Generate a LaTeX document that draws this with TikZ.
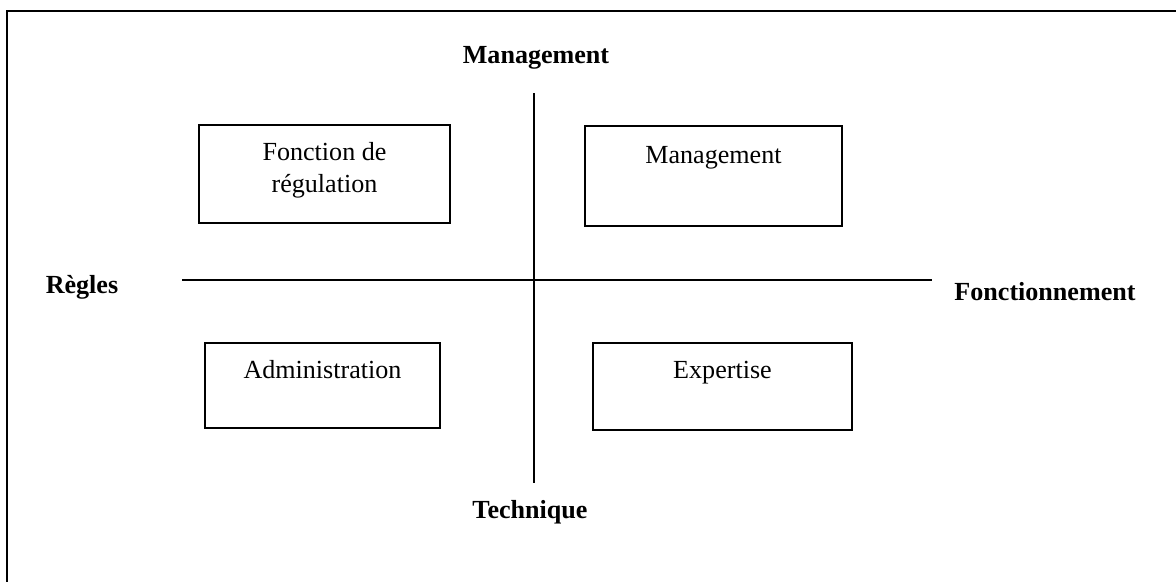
\documentclass[tikz,border=0pt]{standalone}
\usepackage{fontspec}
\setmainfont{Liberation Serif}
\usetikzlibrary{positioning}

\begin{document}
\begin{tikzpicture}[
	x=0.46pt,y=-0.46pt,
	every node/.style={font=\fontsize{12}{14.7}\selectfont},
	box/.style={draw,line width=0.9pt,inner sep=0pt},
	boxtext/.style={anchor=base,align=center,inner sep=0pt},
	axislabel/.style={anchor=base,inner sep=0pt,font=\fontsize{12}{14.7}\selectfont\bfseries},
	axis/.style={line width=0.9pt}
]
\useasboundingbox (0,0) rectangle (1176,581);
\clip (0,0) rectangle (1176,581);
\draw[line width=0.9pt] (7,11) rectangle (1190,600);

\coordinate (vtop) at (534,93);
\coordinate (vbot) at (534,483);
\coordinate (hleft) at (182,280);
\coordinate (hright) at (932,280);
\draw[axis] (vtop) -- (vbot);
\draw[axis] (hleft) -- (hright);

\node[axislabel] (top) at (536,63) {Management};
\node[axislabel] (bottom) at (530,518) {Technique};
\node[axislabel] (left) at (82,293) {Règles};
\node[axislabel] (right) at (1045,300) {Fonctionnement};

\node[box,minimum width=251*0.46pt,minimum height=98*0.46pt] (regul) at (324.5,174) {};
\node[box,minimum width=257*0.46pt,minimum height=100*0.46pt] (mgmt) at (713.5,176) {};
\node[box,minimum width=235*0.46pt,minimum height=85*0.46pt] (admin) at (322.5,385.5) {};
\node[box,minimum width=259*0.46pt,minimum height=87*0.46pt] (expert) at (722.5,386.5) {};

\node[boxtext] (regultext) at (324.5,192) {Fonction de\\régulation};
\node[boxtext] (mgmttext) at (713.5,163) {Management};
\node[boxtext] (admintext) at (322.5,378) {Administration};
\node[boxtext] (experttext) at (722.5,378) {Expertise};
\end{tikzpicture}
\end{document}
